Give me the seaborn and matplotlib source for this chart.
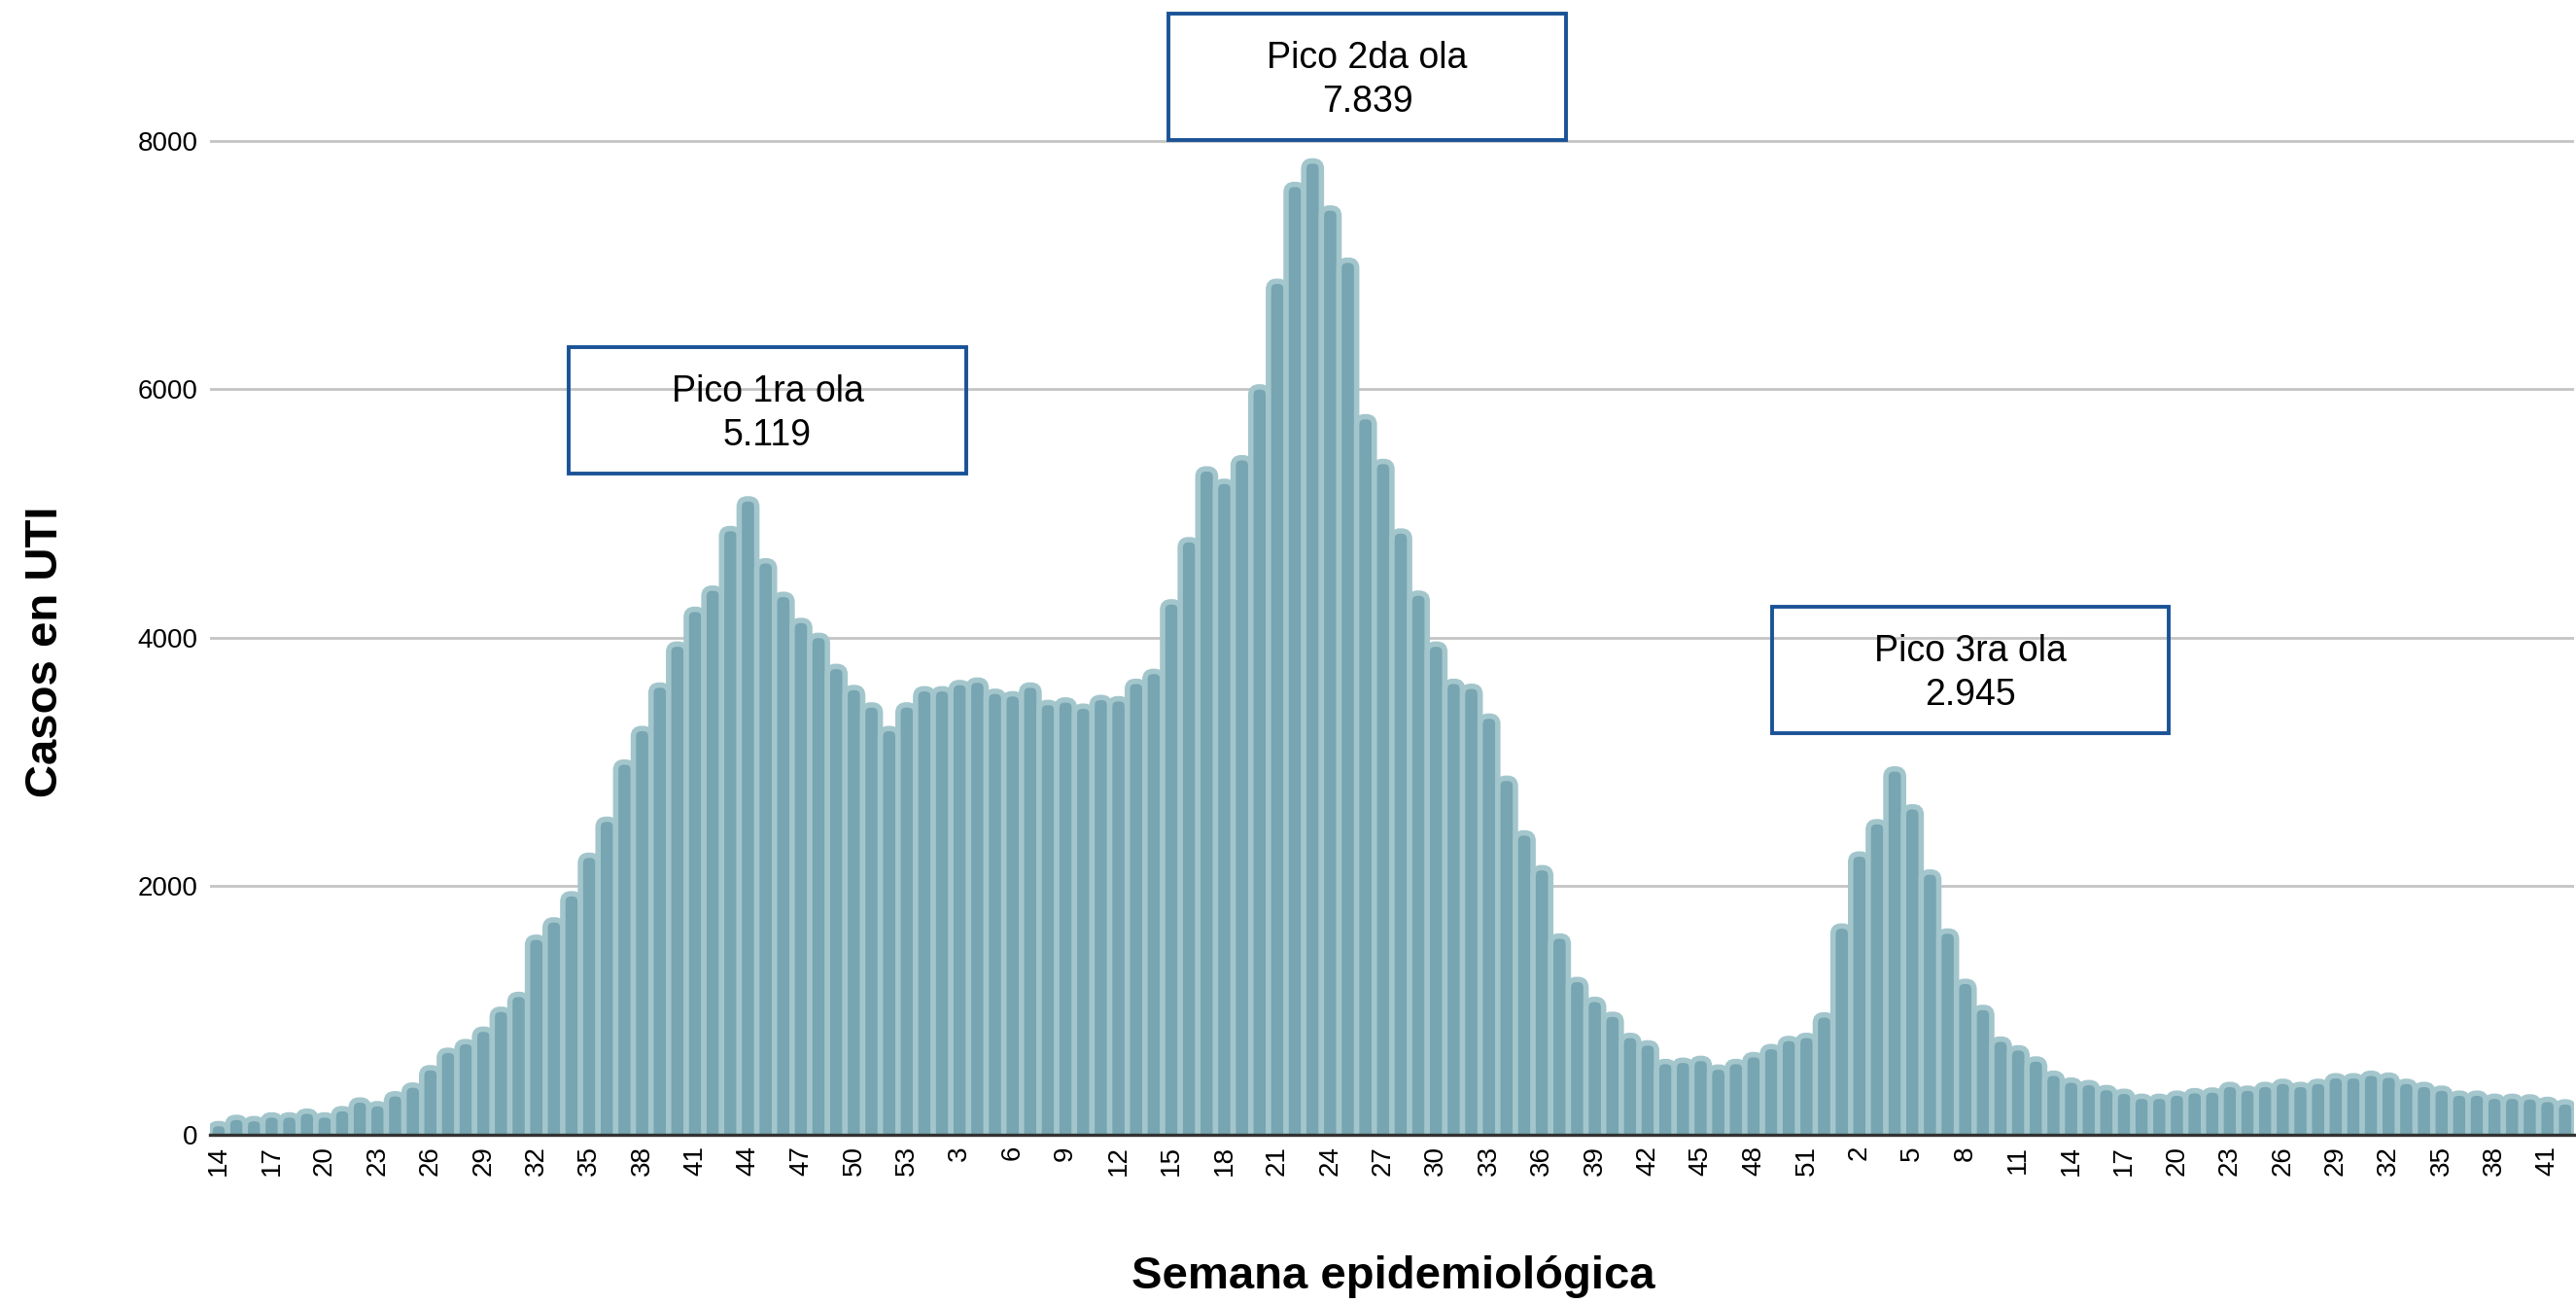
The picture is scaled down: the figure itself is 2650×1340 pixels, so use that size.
import numpy as np
import pandas as pd
import matplotlib
matplotlib.use("Agg")
import matplotlib.pyplot as plt
from matplotlib.patches import FancyBboxPatch, Rectangle
import seaborn as sns

# Epidemiological weeks per season (2020 has 53 weeks)
weeks_2020 = list(range(14, 54))
weeks_2021 = list(range(1, 53))
weeks_2022 = list(range(1, 43))

# ICU cases per week
cases_2020 = [90, 140, 130, 160, 160, 190, 160, 210, 280, 250,
              330, 400, 540, 680, 750, 850, 1010, 1130, 1590, 1730,
              1940, 2250, 2540, 3000, 3270, 3620, 3950, 4230, 4400, 4880,
              5119, 4620, 4350, 4140, 4020, 3770, 3600, 3460, 3270, 3460]
cases_2021 = [3590, 3590, 3640, 3660, 3570, 3550, 3620, 3480, 3500, 3450,
              3520, 3510, 3650, 3730, 4290, 4790, 5360, 5260, 5450, 6020,
              6870, 7650, 7839, 7460, 7040, 5780, 5420, 4860, 4360, 3950,
              3650, 3610, 3370, 2870, 2430, 2150, 1600, 1250, 1090, 970,
              800, 740, 590, 600, 615, 545, 590, 645, 710, 775,
              800, 965]
cases_2022 = [1680, 2260, 2520, 2945, 2640, 2115, 1640, 1235, 1025, 770,
              700, 610, 495, 440, 420, 380, 350, 310, 310, 335,
              355, 360, 405, 375, 405, 430, 405, 430, 475, 475,
              495, 480, 430, 405, 375, 335, 335, 310, 310, 305,
              285, 265]

peak_text = ["Pico 1ra ola\n5.119", "Pico 2da ola\n7.839", "Pico 3ra ola\n2.945"]

# annotation box centres (bar index, cases) and box size
annot_x = [31.1, 65.1, 99.3]
annot_y = [5830, 8515, 3740]
BOX_W, BOX_H = 22.5, 1018

BAR_FACE = "#77a5b1"
BAR_EDGE = "#a3c6cc"
BOX_EDGE = "#1a5296"
YMAX = 8200

df = pd.DataFrame({
    "year": [2020] * len(weeks_2020) + [2021] * len(weeks_2021) + [2022] * len(weeks_2022),
    "week": weeks_2020 + weeks_2021 + weeks_2022,
    "cases": cases_2020 + cases_2021 + cases_2022,
})
df["slot"] = df["year"].astype(str) + "-" + df["week"].astype(str)

sns.set_theme(style="white")
plt.rcParams["font.family"] = ["Liberation Sans", "DejaVu Sans"]

fig = plt.figure(figsize=(26.5, 13.4), dpi=100)
ax = fig.add_axes([0.0815, 0.1291, 0.9177, 0.7818])

sns.barplot(data=df, x="slot", y="cases", order=list(df["slot"]),
            color=BAR_FACE, saturation=1, width=1.0, ax=ax)
ax.set_xlim(-0.5, len(df) - 0.5)
ax.set_ylim(0, YMAX)

# swap the plain rectangles for bars with rounded tops
aspect = (ax.bbox.width / len(df)) / (ax.bbox.height / YMAX)
r = 0.45
for p in list(ax.patches):
    x0, w, h = p.get_x(), p.get_width(), p.get_height()
    ext = r * aspect
    bar = FancyBboxPatch((x0, -ext), w, h + ext,
                         boxstyle=f"round,pad=0,rounding_size={r}",
                         mutation_aspect=aspect,
                         facecolor=BAR_FACE, edgecolor=BAR_EDGE,
                         linewidth=4, zorder=2)
    ax.add_patch(bar)
    p.remove()

ax.set_axisbelow(True)
ax.yaxis.grid(True, color="#c4c4c4", linewidth=2)
ax.xaxis.grid(False)

ax.set_yticks([0, 2000, 4000, 6000, 8000])
ax.tick_params(axis="y", length=0, pad=9, labelsize=20, colors="black")
ax.set_xticks(range(0, len(df), 3))
ax.set_xticklabels(df["week"].iloc[::3], rotation=90)
ax.tick_params(axis="x", length=0, pad=8, labelsize=20, colors="black")
ax.set_xlabel("")
ax.set_ylabel("")

sns.despine(ax=ax, left=True)
ax.spines["bottom"].set_color("#333333")
ax.spines["bottom"].set_linewidth(2.4)
ax.spines["bottom"].set_zorder(4)

for cx, cy, txt in zip(annot_x, annot_y, peak_text):
    ax.add_patch(Rectangle((cx - BOX_W / 2, cy - BOX_H / 2), BOX_W, BOX_H,
                           fill=False, edgecolor=BOX_EDGE, linewidth=2.8,
                           clip_on=False, zorder=5))
    ax.text(cx, cy - 25, txt, ha="center", va="center", fontsize=27,
            linespacing=1.3, color="black", zorder=6)

fig.text(47 / 2650, 0.5, "Casos en UTI", rotation=90, ha="center", va="center",
         fontsize=34, fontweight="bold", color="black")
fig.text(0.5408, 0.0201, "Semana epidemiológica", ha="center", va="center",
         fontsize=34, fontweight="bold", color="black")

fig.savefig("out.png", dpi=100)
